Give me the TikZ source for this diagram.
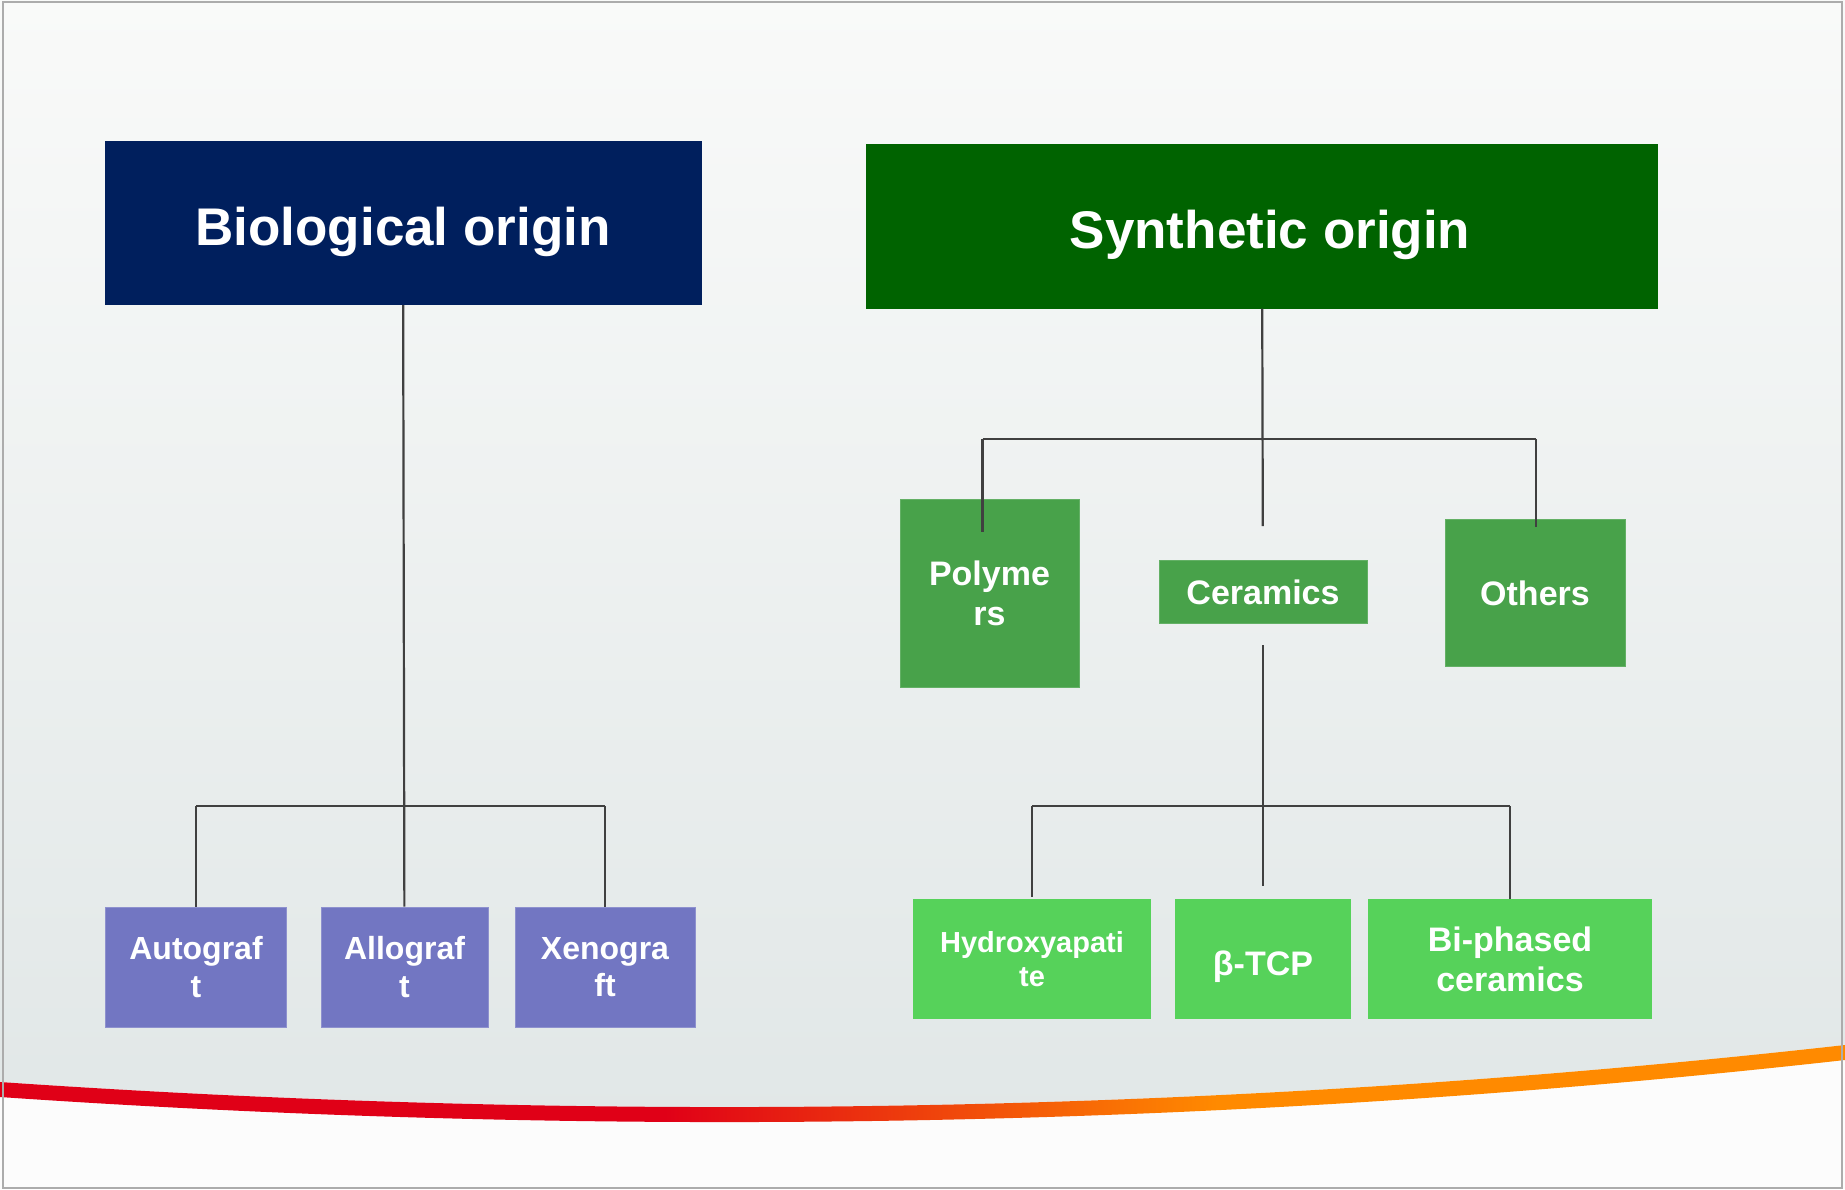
\documentclass[tikz,border=0pt]{standalone}
\usepackage{fontspec}
\setmainfont{Liberation Sans}

\definecolor{bionavy}{HTML}{001F5D}
\definecolor{syngreen}{HTML}{006300}
\definecolor{midgreen}{HTML}{48A24A}
\definecolor{lowgreen}{HTML}{56D25A}
\definecolor{graftblue}{HTML}{7276C2}
\definecolor{bgtop}{HTML}{F9FAF9}
\definecolor{bgbot}{HTML}{E1E7E7}
\definecolor{swred}{HTML}{E00017}
\definecolor{sworange}{HTML}{FF8A00}
\definecolor{linegray}{HTML}{404040}
\definecolor{framegray}{HTML}{ACACAC}
\pgfdeclarehorizontalshading{swoosh}{100bp}{color(0bp)=(swred); color(43bp)=(swred); color(58bp)=(sworange); color(100bp)=(sworange)}

\begin{document}
\begin{tikzpicture}[x=1pt,y=-1pt,
    box/.style={rectangle,inner sep=0pt,text=white,align=center},
    head/.style={box,text height=55pt,text depth=11pt,font=\fontsize{53}{60}\selectfont\bfseries},
    kind/.style={box,fill=midgreen,draw=midgreen!85!white,line width=1pt,font=\fontsize{34}{40}\selectfont\bfseries},
    leaf/.style={box,fill=lowgreen,font=\fontsize{34}{40}\selectfont\bfseries},
    graft/.style={box,fill=graftblue,draw=graftblue!80!white,line width=1pt,font=\fontsize{32}{37.5}\selectfont\bfseries},
    conn/.style={draw=linegray,line width=2.2pt}]
      \useasboundingbox (0,0) rectangle (1845,1189);

      % background and swoosh
      \fill[white!99!black] (0,0) rectangle (1845,1189);
      \shade[top color=bgtop,bottom color=bgbot]
        (0,0) -- (1845,0) -- (1845,1045)
        .. controls (1241,1112.6) and (626,1125) .. (0,1082) -- cycle;
      \shade[shading=swoosh]
        (0,1082) .. controls (626,1125) and (1241,1112.6) .. (1845,1045)
        -- (1845,1060) .. controls (1241,1127.6) and (626,1140) .. (0,1097) -- cycle;
      \draw[framegray,line width=2pt] (3,1.5) rectangle (1842,1188);

      % biological origin
      \node[head,fill=bionavy,minimum width=597pt,minimum height=164pt] (b0) at (403,223) {Biological origin};
      \node[graft,minimum width=181pt,minimum height=120pt] (b1) at (196,967) {Autograf\\t};
      \node[graft,minimum width=167pt,minimum height=120pt] (b2) at (404.5,967) {Allograf\\t};
      \node[graft,minimum width=180pt,minimum height=120pt] (b3) at (605,967) {Xenogra\\ft};

      % synthetic origin
      \node[head,fill=syngreen,minimum width=792pt,minimum height=165pt] (s0) at (1262,226) {\hspace*{16pt}Synthetic origin};
      \node[kind,minimum width=179pt,minimum height=188pt] (s1) at (989.5,593) {Polyme\\rs};
      \node[kind,minimum width=208pt,minimum height=63pt] (s2) at (1263,592) {Ceramics};
      \node[kind,minimum width=180pt,minimum height=147pt,text height=27pt,text depth=2pt] (s3) at (1535,592.5) {Others};

      \node[leaf,minimum width=238pt,minimum height=120pt,font=\fontsize{29}{34}\selectfont\bfseries] (s21) at (1032,959) {Hydroxyapati\\te};
      \node[leaf,minimum width=176pt,minimum height=120pt,text height=39pt,text depth=7pt] (s22) at (1263,959) {β-TCP};
      \node[leaf,minimum width=284pt,minimum height=120pt] (s23) at (1510,959) {Bi-phased\\ceramics};

      \coordinate (hb1) at (196,806);
      \coordinate (hb3) at (605,806);
      \coordinate (hs1) at (982.5,439);
      \coordinate (hs3) at (1535.6,439);
      \coordinate (ts1) at (982.5,532);
      \coordinate (ts3) at (1535.6,527);
      \coordinate (hc1) at (1032,806);
      \coordinate (hc3) at (1510,806);

      \path[conn]
      (b0) edge (b2)
      (hb1) edge (hb3)
      (hb1) edge (b1)
      (hb3) edge (b3)
      ;

      \path[conn]
      (s0) edge [shorten >=34pt] (s2)
      (hs1) edge (hs3)
      (hs1) edge (ts1)
      (hs3) edge (ts3)
      ;

      \path[conn]
      (s2) edge [shorten <=21pt,shorten >=13pt] (s22)
      (hc1) edge (hc3)
      (hc1) edge [shorten >=2pt] (s21)
      (hc3) edge (s23)
      ;
    \end{tikzpicture}
\end{document}
